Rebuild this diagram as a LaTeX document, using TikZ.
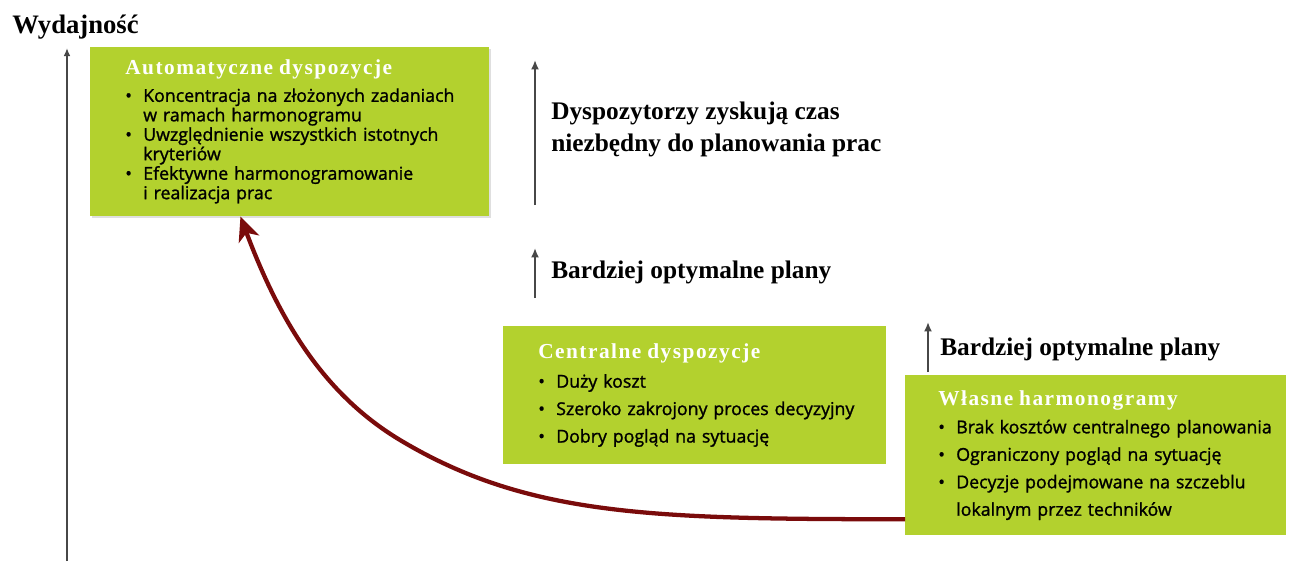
\documentclass[tikz,border=0pt]{standalone}
\usepackage{fontspec}
\setmainfont{Liberation Serif}
\newfontfamily\tresc{Open Sans}[FakeBold=1.3]
\newfontfamily\titel[LetterSpace=7]{Liberation Serif}
\usetikzlibrary{arrows.meta,shadows}

\definecolor{zielony}{HTML}{B3D12E}
\definecolor{bordo}{HTML}{7A0B0B}
\definecolor{szary}{HTML}{474747}

\tikzset{
  pole/.style={fill=zielony, inner ysep=0pt, align=left, anchor=north west},
  napis/.style={font=\bfseries\fontsize{19}{24}\selectfont, align=left, anchor=west, inner sep=0pt},
  strzalka/.style={draw=szary, line width=2.2pt, -{Latex[length=7pt,width=6pt]}},
  krzywa/.style={draw=bordo, line width=3.2pt, -{Stealth[length=18pt,width=16pt,inset=5pt]}}
}
\newcommand\pkt[1]{\mbox{\makebox[13.5pt][l]{•}#1}}
\newcommand\dalej[1]{\mbox{\hspace*{13.5pt}#1}}
\newcommand\tyt[1]{\mbox{\titel\bfseries\fontsize{16}{16}\selectfont\color{white}#1}}

\begin{document}
\begin{tikzpicture}[x=0.75pt,y=-0.75pt]
  \path[use as bounding box, fill=white] (0,0) rectangle (1306,561);

  \node[font=\bfseries\fontsize{20}{24}\selectfont, anchor=west, inner sep=0pt] (wyd) at (12,27) {Wydajność};
  \coordinate (osD) at (67,561);
  \coordinate (osG) at (67,48);
  \draw[draw=szary, line width=1.5pt, -{Latex[length=6pt,width=5pt]}] (osD) -- (osG);

  \node[pole, drop shadow={shadow xshift=1.5pt, shadow yshift=-1.5pt, opacity=0.25}, inner xsep=26.25pt, text width=246.75pt, minimum height=126.75pt,
        font=\tresc\fontsize{13.3}{14.6}\selectfont] (A) at (90,47) {%
    \tyt{Automatyczne dyspozycje}\\[5.6pt]
    \pkt{Koncentracja na złożonych zadaniach}\\
    \dalej{w ramach harmonogramu}\\
    \pkt{Uwzględnienie wszystkich istotnych}\\
    \dalej{kryteriów}\\
    \pkt{Efektywne harmonogramowanie}\\
    \dalej{i realizacja prac}};

  \node[pole, inner xsep=26.25pt, text width=234.75pt, minimum height=103.5pt,
        font=\tresc\fontsize{13.3}{20.6}\selectfont] (C) at (503,326) {%
    \tyt{Centralne dyspozycje}\\[1.2pt]
    \pkt{Duży koszt}\\
    \pkt{Szeroko zakrojony proces decyzyjny}\\
    \pkt{Dobry pogląd na sytuację}};

  \node[pole, inner xsep=24.75pt, text width=236.25pt, minimum height=120pt,
        font=\tresc\fontsize{13.3}{20.6}\selectfont] (W) at (905,375) {%
    \tyt{Własne harmonogramy}\\[0.4pt]
    \pkt{Brak kosztów centralnego planowania}\\
    \pkt{Ograniczony pogląd na sytuację}\\
    \pkt{Decyzje podejmowane na szczeblu}\\
    \dalej{lokalnym przez techników}};

  \node[napis] (zysk) at (551,129) {Dyspozytorzy zyskują czas\\niezbędny do planowania prac};
  \node[napis] (plan1) at (551,272) {Bardziej optymalne plany};
  \node[napis] (plan2) at (940,349) {Bardziej optymalne plany};

  \coordinate (s1D) at (535,205);
  \coordinate (s1G) at (535,60);
  \coordinate (s2D) at (535,298);
  \coordinate (s2G) at (535,248);
  \coordinate (s3D) at (928,372);
  \coordinate (s3G) at (928,322);
  \draw[strzalka] (s1D) -- (s1G);
  \draw[strzalka] (s2D) -- (s2G);
  \draw[strzalka] (s3D) -- (s3G);

  \coordinate (k1) at (400,440);
  \draw[krzywa] ([yshift=-48pt]W.west) .. controls (655,519) and (528.6,517.1) .. (k1)
    .. controls (322.9,393.7) and (278.8,319) .. ([xshift=-37pt]A.south);
\end{tikzpicture}
\end{document}
